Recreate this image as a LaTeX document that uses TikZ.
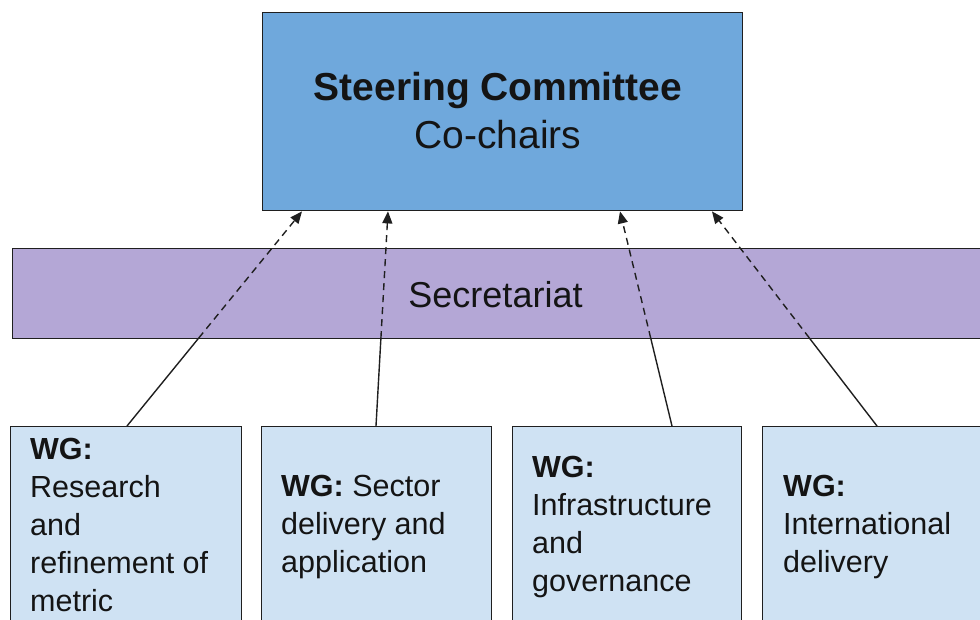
\documentclass[tikz,border=0pt]{standalone}
\usepackage{fontspec}
\setmainfont{Liberation Sans}
\usetikzlibrary{arrows.meta,calc}
\definecolor{steer}{HTML}{6FA8DC}
\definecolor{secr}{HTML}{B4A7D6}
\definecolor{wgfill}{HTML}{CFE2F3}
\definecolor{edgecol}{HTML}{1F1F1F}
\definecolor{txtcol}{HTML}{141414}
\begin{document}
\begin{tikzpicture}[x=1pt,y=-1pt,
  box/.style={draw=edgecol, line width=1.4pt, inner sep=0pt, anchor=north west},
  wgbox/.style={box, fill=wgfill, minimum height=260pt},
  wgtext/.style={anchor=north west, inner sep=0pt, align=left, text=txtcol,
    font=\fontsize{30.5}{38}\selectfont},
  dashlink/.style={draw=edgecol, line width=1.4pt, dash pattern=on 7pt off 5pt,
    -{Triangle[length=12pt,width=10pt]}},
  solidlink/.style={draw=edgecol, line width=1.4pt}]
\useasboundingbox (0,0) rectangle (980,620);
\clip (0,0) rectangle (980,620);
% boxes
\node[box, fill=steer, minimum width=480pt, minimum height=198pt] (sc) at (261.5,12) {};
\node[box, fill=secr, minimum width=1000pt, minimum height=90pt] (sec) at (12,248) {};
\node[wgbox, minimum width=231pt] (w1) at (10,426) {};
\node[wgbox, minimum width=230pt] (w2) at (261,426) {};
\node[wgbox, minimum width=229pt] (w3) at (512,426) {};
\node[wgbox, minimum width=260pt] (w4) at (762,426) {};
% texts
\node[anchor=north, inner sep=0pt, align=center, text=txtcol,
  font=\fontsize{39}{48}\selectfont] (sct) at (498,72.5)
  {\textbf{Steering Committee}\\Co-chairs};
\node[anchor=base, inner sep=0pt, text=txtcol, font=\fontsize{36}{43}\selectfont]
  (sect) at (495.5,308) {Secretariat};
\node[wgtext] (t1) at (30,438) {\textbf{WG:}\\Research\\and\\refinement of\\metric};
\node[wgtext] (t2) at (281,475) {\textbf{WG:} Sector\\delivery and\\application};
\node[wgtext] (t3) at (532,456) {\textbf{WG:}\\Infrastructure\\and\\governance};
\node[wgtext] (t4) at (783,475) {\textbf{WG:}\\International\\delivery};
% connector end points
\coordinate (s1) at ($(w1.north west)+(117,0)$);
\coordinate (s2) at ($(w2.north west)+(115,0)$);
\coordinate (s3) at ($(w3.north west)+(160,0)$);
\coordinate (s4) at ($(w4.north west)+(115,0)$);
\coordinate (e1) at ($(sc.south west)+(40.5,0)$);
\coordinate (e2) at ($(sc.south west)+(126.5,0)$);
\coordinate (e3) at ($(sc.south west)+(358.5,0)$);
\coordinate (e4) at ($(sc.south west)+(450.5,0)$);
\foreach \i in {1,2,3,4}{
  \draw[dashlink] ($(s\i)!0.41!(e\i)$) -- (e\i);
  \draw[solidlink] (s\i) -- ($(s\i)!0.41!(e\i)$);
}
\end{tikzpicture}
\end{document}
